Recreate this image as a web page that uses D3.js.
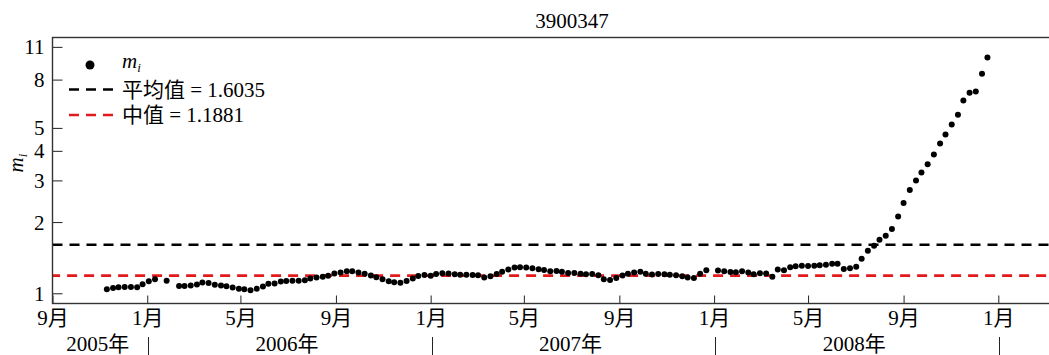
<!DOCTYPE html>
<html>
<head>
<meta charset="utf-8">
<script src="https://cdn.jsdelivr.net/npm/d3@7"></script>
<style>
body { margin: 0; background: #fff; }
svg { display: block; font-family: "Liberation Serif", "Noto Sans CJK SC", serif; }
</style>
</head>
<body>
<script>
var title = "3900347";

var dates = [
  "2005-11-10","2005-11-18","2005-11-25","2005-12-03","2005-12-11","2005-12-19","2005-12-26",
  "2006-01-03","2006-01-11","2006-01-26","2006-02-11","2006-02-18","2006-02-26","2006-03-06","2006-03-13","2006-03-21","2006-03-29",
  "2006-04-06","2006-04-13","2006-04-21","2006-04-29","2006-05-06","2006-05-14","2006-05-22","2006-05-30","2006-06-06","2006-06-14",
  "2006-06-22","2006-06-29","2006-07-07","2006-07-15","2006-07-23","2006-07-30","2006-08-07","2006-08-15","2006-08-22","2006-08-30",
  "2006-09-07","2006-09-15","2006-09-22","2006-09-30","2006-10-08","2006-10-16","2006-10-23","2006-10-31","2006-11-08","2006-11-15",
  "2006-11-23","2006-12-01","2006-12-09","2006-12-16","2006-12-24",
  "2007-01-01","2007-01-08","2007-01-16","2007-01-24","2007-02-01","2007-02-08","2007-02-16","2007-02-24","2007-03-03","2007-03-11",
  "2007-03-19","2007-03-27","2007-04-03","2007-04-11","2007-04-19","2007-04-26","2007-05-04","2007-05-12","2007-05-20","2007-05-27",
  "2007-06-04","2007-06-12","2007-06-19","2007-06-27","2007-07-05","2007-07-13","2007-07-20","2007-07-28","2007-08-05","2007-08-12",
  "2007-08-20","2007-08-28","2007-09-05","2007-09-12","2007-09-20","2007-09-28","2007-10-05","2007-10-13","2007-10-21","2007-10-29",
  "2007-11-05","2007-11-13","2007-11-21","2007-11-28","2007-12-06","2007-12-14","2007-12-22",
  "2008-01-06","2008-01-14","2008-01-22","2008-01-29","2008-02-06","2008-02-14","2008-02-21","2008-02-29","2008-03-08","2008-03-16",
  "2008-03-23","2008-03-31","2008-04-08","2008-04-15","2008-04-23","2008-05-01","2008-05-09","2008-05-16","2008-05-24","2008-06-01",
  "2008-06-08","2008-06-16","2008-06-24","2008-07-02","2008-07-09","2008-07-17","2008-07-25","2008-08-01","2008-08-09","2008-08-17",
  "2008-08-25","2008-09-01","2008-09-09","2008-09-17","2008-09-24","2008-10-02","2008-10-10","2008-10-18","2008-10-25","2008-11-02",
  "2008-11-10","2008-11-17","2008-11-25","2008-12-03","2008-12-11","2008-12-18"
];

var mValues = [
  1.040, 1.053, 1.061, 1.063, 1.063, 1.060, 1.092,
  1.125, 1.146, 1.129, 1.074, 1.074, 1.079, 1.089, 1.111, 1.106, 1.087,
  1.079, 1.072, 1.058, 1.045, 1.041, 1.030, 1.045, 1.068, 1.098, 1.100,
  1.122, 1.127, 1.129, 1.131, 1.136, 1.155, 1.166, 1.175, 1.187, 1.213,
  1.225, 1.239, 1.239, 1.225, 1.209, 1.189, 1.170, 1.147, 1.125, 1.114,
  1.108, 1.127, 1.155, 1.184, 1.195,
  1.186, 1.207, 1.215, 1.213, 1.204, 1.197, 1.197, 1.195, 1.193, 1.166,
  1.181, 1.207, 1.234, 1.261, 1.286, 1.288, 1.286, 1.276, 1.265, 1.255,
  1.240, 1.243, 1.233, 1.219, 1.219, 1.209, 1.204, 1.207, 1.193, 1.147,
  1.138, 1.161, 1.189, 1.210, 1.225, 1.233, 1.210, 1.201, 1.207, 1.203,
  1.199, 1.192, 1.181, 1.166, 1.161, 1.209, 1.252,
  1.249, 1.240, 1.231, 1.226, 1.240, 1.225, 1.203, 1.215, 1.213, 1.175,
  1.261, 1.251, 1.288, 1.302, 1.307, 1.305, 1.307, 1.315, 1.321, 1.334,
  1.333, 1.267, 1.276, 1.296, 1.401, 1.514, 1.590, 1.684, 1.751, 1.871,
  2.109, 2.405, 2.735, 2.994, 3.237, 3.513, 3.857, 4.294, 4.687, 5.167,
  5.679, 6.527, 7.035, 7.125, 8.466, 9.923
];

var meanValue = 1.6035;
var medianValue = 1.1881;

var yTickValues = [1, 2, 3, 4, 5, 8, 11];
var monthTicks = ["2005-09-01","2006-01-01","2006-05-01","2006-09-01","2007-01-01","2007-05-01","2007-09-01",
                  "2008-01-01","2008-05-01","2008-09-01","2009-01-01"];
var yearLabels = ["2005年", "2006年", "2007年", "2008年"];
var yearStarts = ["2005-09-01", "2006-01-01", "2007-01-01", "2008-01-01", "2009-01-01"];

var w = 1049, h = 355;
var pL = 52.5, pR = 1091.5, pT = 37.5, pB = 303.5;
var fontSize = 21;

var parse = d3.timeParse("%Y-%m-%d");
var svg = d3.select("body").append("svg").attr("width", w).attr("height", h);
svg.append("rect").attr("width", w).attr("height", h).attr("fill", "#fff");

// the plot box runs on past the right edge of the picture (to May 2009)
var xS = d3.scaleTime().domain([parse("2005-09-01"), parse("2009-05-01")]).range([pL, pR]);
var yS = d3.scaleLog().domain([0.9055, 12.05]).range([pB, pT]);

// title
svg.append("text").attr("x", (pL + pR) / 2).attr("y", 28)
    .attr("text-anchor", "middle").attr("font-size", fontSize).text(title);

// reference lines
svg.append("line").attr("x1", pL).attr("x2", pR)
    .attr("y1", yS(meanValue)).attr("y2", yS(meanValue))
    .attr("stroke", "#000").attr("stroke-width", 2.6).attr("stroke-dasharray", "10,7");
svg.append("line").attr("x1", pL).attr("x2", pR)
    .attr("y1", yS(medianValue)).attr("y2", yS(medianValue))
    .attr("stroke", "#e31a1c").attr("stroke-width", 2.6).attr("stroke-dasharray", "10,7")
    .attr("stroke-dashoffset", 2.4);

// points
svg.selectAll("circle.pt").data(dates).enter().append("circle")
    .attr("class", "pt")
    .attr("cx", function(d) { return xS(parse(d)); })
    .attr("cy", function(d, i) { return yS(mValues[i]); })
    .attr("r", 3)
    .attr("fill", "#000");

// axes
var yA = d3.axisLeft(yS).tickValues(yTickValues).tickSize(-10).tickSizeOuter(0).tickPadding(8)
    .tickFormat(d3.format("d"));
var gy = svg.append("g").attr("transform", "translate(" + pL + ",0)").call(yA)
    .attr("font-family", null).attr("font-size", fontSize);
gy.select(".domain").remove();
gy.selectAll("text").attr("dy", "0.33em");
gy.selectAll("line").attr("stroke", "#222");

var xA = d3.axisBottom(xS).tickValues(monthTicks.map(parse)).tickSize(-8).tickSizeOuter(0)
    .tickFormat(function(d) { return (d.getMonth() + 1) + "月"; });
var gx = svg.append("g").attr("transform", "translate(0," + pB + ")").call(xA)
    .attr("font-family", null).attr("font-size", fontSize);
gx.select(".domain").remove();
gx.selectAll("text").attr("y", 21.5).attr("dy", 0);
gx.selectAll("line").attr("stroke", "#222");

// frame
svg.append("rect").attr("x", pL).attr("y", pT).attr("width", pR - pL).attr("height", pB - pT)
    .attr("fill", "none").attr("stroke", "#333").attr("stroke-width", 1.4);

// year row
for (var i = 0; i < yearLabels.length; i++) {
    var a = xS(parse(yearStarts[i])), b = xS(parse(yearStarts[i + 1]));
    svg.append("text").attr("x", (a + b) / 2 - 2).attr("y", 351)
        .attr("text-anchor", "middle").attr("font-size", fontSize).text(yearLabels[i]);
}
for (var j = 1; j < yearStarts.length; j++) {
    var sx = Math.round(xS(parse(yearStarts[j]))) + 1.5;
    svg.append("line").attr("x1", sx).attr("x2", sx).attr("y1", 337).attr("y2", 355)
        .attr("stroke", "#222").attr("stroke-width", 1);
}

// y label
var yl = svg.append("text").attr("transform", "translate(23,163) rotate(-90)")
    .attr("text-anchor", "middle").attr("font-size", fontSize).attr("font-style", "italic");
yl.append("tspan").text("m");
yl.append("tspan").attr("font-size", 13).attr("dy", 4).text("i");

// legend
svg.append("circle").attr("cx", 90).attr("cy", 65).attr("r", 4.5).attr("fill", "#000");
var l1 = svg.append("text").attr("x", 122).attr("y", 68).attr("font-size", fontSize).attr("font-style", "italic");
l1.append("tspan").text("m");
l1.append("tspan").attr("font-size", 13).attr("dy", 4).text("i");

svg.append("line").attr("x1", 69).attr("x2", 113).attr("y1", 89.5).attr("y2", 89.5)
    .attr("stroke", "#000").attr("stroke-width", 2.6).attr("stroke-dasharray", "10,7");
svg.append("text").attr("x", 122).attr("y", 97).attr("font-size", fontSize)
    .text("平均值 = " + meanValue.toFixed(4));

svg.append("line").attr("x1", 69).attr("x2", 113).attr("y1", 115).attr("y2", 115)
    .attr("stroke", "#e31a1c").attr("stroke-width", 2.6).attr("stroke-dasharray", "10,7");
svg.append("text").attr("x", 122).attr("y", 122).attr("font-size", fontSize)
    .text("中值 = " + medianValue.toFixed(4));
</script>
</body>
</html>
